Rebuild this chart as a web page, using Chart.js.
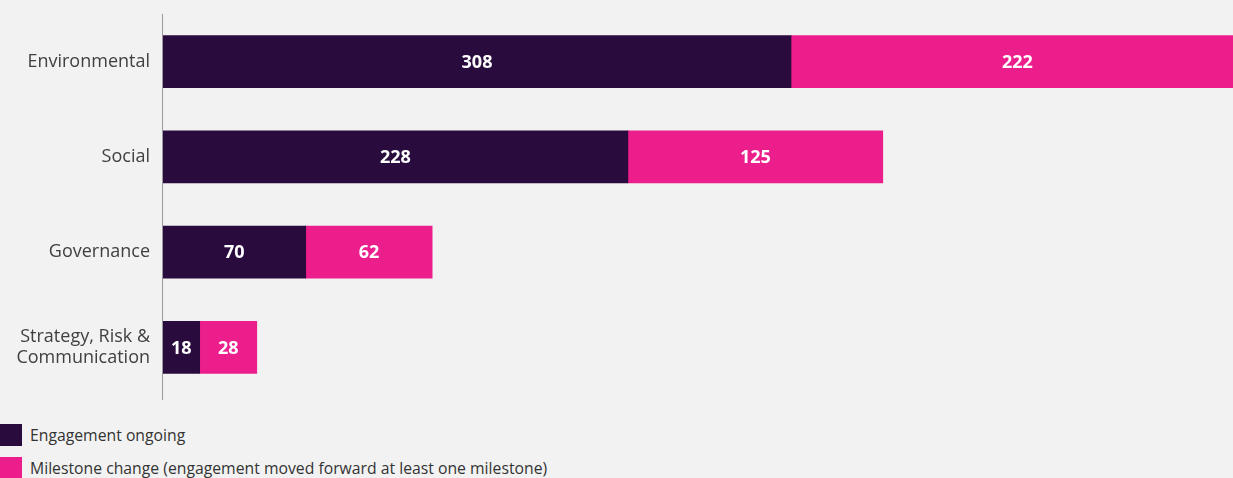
<!DOCTYPE html>
<html>
<head>
<meta charset="utf-8">
<script src="https://cdn.jsdelivr.net/npm/chart.js@4.4.1/dist/chart.umd.min.js"></script>
<style>
  html, body { margin: 0; padding: 0; background: #f2f2f2; overflow: hidden; }
  body { width: 1233px; height: 478px; position: relative; font-family: "Open Sans", sans-serif; }
  #wrap { position: absolute; left: 0; top: 0; width: 1260px; height: 410px; }
  .legend { position: absolute; left: 0; display: flex; align-items: center; font-size: 15.75px; color: #333; }
  .legend span.box { width: 22px; height: 22px; margin-right: 8px; display: inline-block; }
</style>
</head>
<body>
<div id="wrap"><canvas id="chart" width="1260" height="410"></canvas></div>
<div class="legend" style="top:424px"><span class="box" style="background:#2a0b3e"></span>Engagement ongoing</div>
<div class="legend" style="top:457px"><span class="box" style="background:#ec1e8c"></span>Milestone change (engagement moved forward at least one milestone)</div>
<script>
const categories = ["Environmental", "Social", "Governance", ["Strategy, Risk &", "Communication"]];
const ongoing = [308, 228, 70, 18];
const milestone = [222, 125, 62, 28];
const seriesNames = ["Engagement ongoing", "Milestone change (engagement moved forward at least one milestone)"];

// white bold numbers in the middle of each segment
const barLabels = {
  id: "barLabels",
  afterDatasetsDraw(chart) {
    const ctx = chart.ctx;
    ctx.save();
    ctx.fillStyle = "#fff";
    ctx.font = "bold 18px 'Open Sans'";
    ctx.textAlign = "center";
    ctx.textBaseline = "middle";
    chart.data.datasets.forEach((ds, i) => {
      chart.getDatasetMeta(i).data.forEach((bar, j) => {
        const p = bar.getCenterPoint();
        ctx.fillText(ds.data[j], p.x, p.y + 1);
      });
    });
    ctx.restore();
  }
};

// thin vertical axis line left of the bars
const axisLine = {
  id: "axisLine",
  afterDraw(chart) {
    const ctx = chart.ctx;
    const x = chart.chartArea.left - 0.5;
    ctx.save();
    ctx.strokeStyle = "#9a9a9a";
    ctx.lineWidth = 1;
    ctx.beginPath();
    ctx.moveTo(x, 14);
    ctx.lineTo(x, 400);
    ctx.stroke();
    ctx.restore();
  }
};

new Chart(document.getElementById("chart"), {
  type: "bar",
  data: {
    labels: categories,
    datasets: [
      { label: seriesNames[0], data: ongoing, backgroundColor: "#2a0b3e", barThickness: 52 },
      { label: seriesNames[1], data: milestone, backgroundColor: "#ec1e8c", barThickness: 52 }
    ]
  },
  options: {
    indexAxis: "y",
    responsive: false,
    animation: false,
    layout: { padding: { top: 14, bottom: 15, left: 0, right: 0 } },
    plugins: { legend: { display: false }, tooltip: { enabled: false } },
    scales: {
      x: { stacked: true, display: false, min: 0, max: 538 },
      y: {
        stacked: true,
        grid: { display: false, drawTicks: false },
        border: { display: false },
        afterFit: (scale) => {
          scale.width = 163;
          scale.paddingTop = 0;
          scale.paddingBottom = 0;
        },
        ticks: { padding: 13, color: "#404040", font: { family: "Open Sans", size: 18, lineHeight: 1.17 } }
      }
    }
  },
  plugins: [barLabels, axisLine]
});
</script>
</body>
</html>
